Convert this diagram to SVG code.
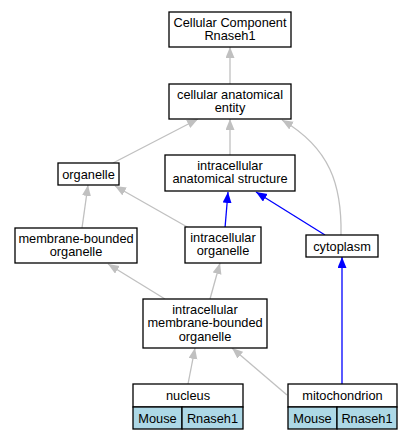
<svg xmlns="http://www.w3.org/2000/svg" width="413" height="440" viewBox="0 0 413 440">
<style>
.box{fill:#fff;stroke:#000;stroke-width:1.3}
.cell{fill:#add8e6;stroke:#000;stroke-width:1.3}
text{font-family:"Liberation Sans",Arial,sans-serif;font-size:12.8px;fill:#000;text-anchor:middle}
.g{stroke:#c0c0c0;stroke-width:1.3;fill:none;marker-end:url(#ag)}
.b{stroke:#0000ff;stroke-width:1.3;fill:none;marker-end:url(#ab)}
</style>
<defs>
<marker id="ag" markerUnits="userSpaceOnUse" markerWidth="12" markerHeight="10" refX="11" refY="4.5" orient="auto"><path d="M0,0 L11,4.5 L0,9 z" fill="#c0c0c0"/></marker>
<marker id="ab" markerUnits="userSpaceOnUse" markerWidth="12" markerHeight="10" refX="11" refY="4.5" orient="auto"><path d="M0,0 L11,4.5 L0,9 z" fill="#0000ff"/></marker>
</defs>
<rect width="413" height="440" fill="#fff"/>
<g id="edges">
<path class="g" d="M230,84 L230,47"/>
<path class="g" d="M113,163 L198,119"/>
<path class="g" d="M230,155 L230,119"/>
<path class="g" d="M341,235 C342,185 330,148 282,120"/>
<path class="g" d="M82,228 L88,185"/>
<path class="g" d="M189,228 L115,186"/>
<path class="b" d="M225,228 L228,192"/>
<path class="b" d="M325,235 L256,192"/>
<path class="g" d="M165,299 L108,264"/>
<path class="g" d="M210,299 L220,263"/>
<path class="g" d="M188,384 L195,348"/>
<path class="g" d="M287,395 L232,348"/>
<path class="b" d="M342,384 L342,257"/>
</g>
<g id="n_ccr"><rect class="box" x="169" y="12" width="122" height="35"/><text x="230" y="26.5">Cellular Component</text><text x="230" y="40">Rnaseh1</text></g>
<g id="n_cae"><rect class="box" x="169" y="84" width="122" height="35"/><text x="230" y="98.5">cellular anatomical</text><text x="230" y="112">entity</text></g>
<g id="n_organelle"><rect class="box" x="58" y="163" width="61" height="22"/><text x="88.5" y="178.5">organelle</text></g>
<g id="n_ias"><rect class="box" x="165" y="155" width="130" height="36"/><text x="230" y="169.5">intracellular</text><text x="230" y="183">anatomical structure</text></g>
<g id="n_mbo"><rect class="box" x="15" y="228" width="122" height="35"/><text x="76" y="242.5">membrane-bounded</text><text x="76" y="256">organelle</text></g>
<g id="n_io"><rect class="box" x="185" y="227" width="76" height="36"/><text x="223" y="241.5">intracellular</text><text x="223" y="255">organelle</text></g>
<g id="n_cytoplasm"><rect class="box" x="306" y="235" width="72" height="22"/><text x="342" y="250.5">cytoplasm</text></g>
<g id="n_imbo"><rect class="box" x="143" y="299" width="124" height="49"/><text x="205" y="313.5">intracellular</text><text x="205" y="327">membrane-bounded</text><text x="205" y="340.5">organelle</text></g>
<g id="n_nucleus"><rect class="box" x="133" y="384" width="110" height="23"/><text x="188" y="399.5">nucleus</text><rect class="cell" x="133" y="407" width="49" height="22"/><rect class="cell" x="182" y="407" width="61" height="22"/><text x="157.5" y="422.5">Mouse</text><text x="212.5" y="422.5">Rnaseh1</text></g>
<g id="n_mito"><rect class="box" x="288" y="384" width="109" height="23"/><text x="342.5" y="399.5">mitochondrion</text><rect class="cell" x="288" y="407" width="49" height="22"/><rect class="cell" x="337" y="407" width="60" height="22"/><text x="312.5" y="422.5">Mouse</text><text x="367" y="422.5">Rnaseh1</text></g>
</svg>
